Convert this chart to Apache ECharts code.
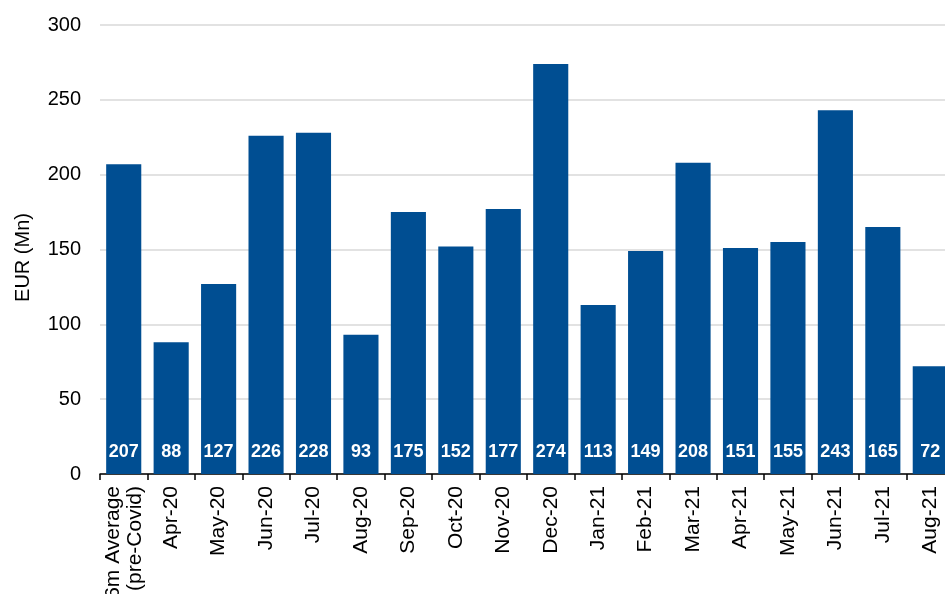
<!DOCTYPE html>
<html>
<head>
  <meta charset="utf-8">
  <title>EUR (Mn)</title>
  <style>
  html, body {
    margin: 0;
    padding: 0;
    overflow: hidden;
    background: #fff;
  }

  #chart {
    width: 960px;
    height: 594px;
  }
  </style>
</head>
<body>
  <div id="chart"></div>
  <script src="https://cdn.jsdelivr.net/npm/echarts@6/dist/echarts.min.js"></script>
  <script>
  const categories = ['6m Average\n(pre-Covid)', 'Apr-20', 'May-20', 'Jun-20', 'Jul-20', 'Aug-20',
    'Sep-20', 'Oct-20', 'Nov-20', 'Dec-20', 'Jan-21', 'Feb-21', 'Mar-21', 'Apr-21', 'May-21',
    'Jun-21', 'Jul-21', 'Aug-21'
  ]
  const values = [207, 88, 127, 226, 228, 93, 175, 152, 177, 274, 113, 149, 208, 151, 155, 243, 165, 72]
  const yTicks = { min: 0, max: 300, interval: 50 }

  const font = 'Liberation Sans, Arial, sans-serif'

  let option = {
    animation: false,
    grid: {
      left: 100,
      top: 25,
      width: 854,
      height: 449,
      containLabel: false,
      outerBoundsMode: 'none',
    },
    xAxis: {
      type: 'category',
      data: categories,
      axisLine: { lineStyle: { color: '#000', width: 1.5 } },
      axisTick: { show: true, length: 6, lineStyle: { color: '#000', width: 1.5 } },
      axisLabel: {
        rotate: 90,
        margin: 12,
        color: '#000',
        fontSize: 21,
        fontFamily: font,
        lineHeight: 22,
        interval: 0,
      },
    },
    yAxis: {
      type: 'value',
      min: yTicks.min,
      max: yTicks.max,
      interval: yTicks.interval,
      name: 'EUR (Mn)',
      nameLocation: 'middle',
      nameGap: 67,
      // nudge the title a little below the grid centre, like the original
      nameTextStyle: { color: '#000', fontSize: 20, fontFamily: font, padding: [0, 16, 0, 0] },
      axisLine: { show: false },
      axisTick: { show: false },
      axisLabel: { color: '#000', fontSize: 20, fontFamily: font, margin: 19 },
      splitLine: { lineStyle: { color: '#d9d9d9', width: 1.5 } },
    },
    series: [{
      type: 'bar',
      data: values,
      barCategoryGap: '26%',
      itemStyle: { color: '#004E92' },
      label: {
        show: true,
        position: 'insideBottom',
        distance: 13,
        color: '#fff',
        fontWeight: 'bold',
        fontSize: 18,
        fontFamily: font,
      },
    }]
  }

  let myChart = echarts.init(document.getElementById('chart'))
  myChart.setOption(option)
  </script>
</body>
</html>
